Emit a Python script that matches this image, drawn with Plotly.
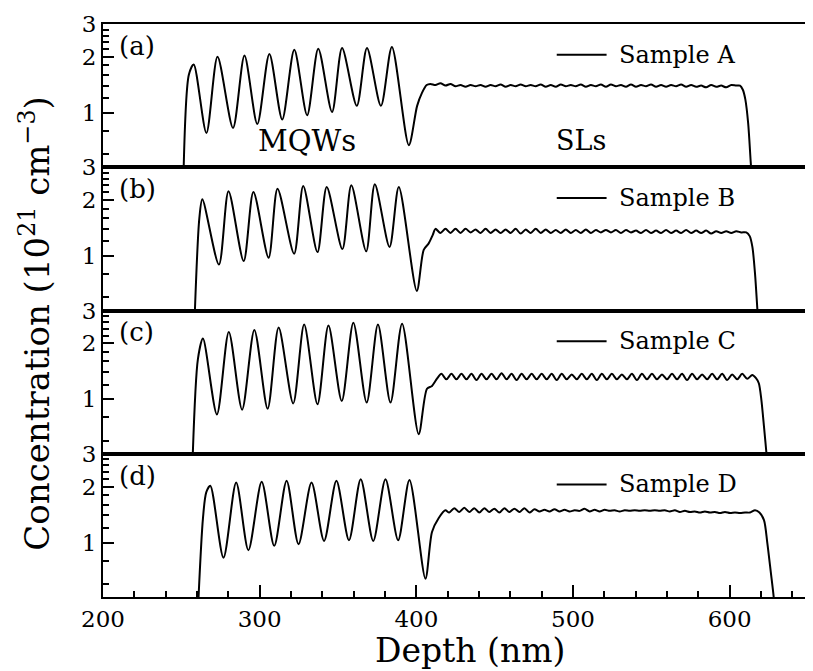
import math
import plotly.graph_objects as go
from plotly.subplots import make_subplots

samples = ["Sample A", "Sample B", "Sample C", "Sample D"]
panel_tags = ["(a)", "(b)", "(c)", "(d)"]

# Sample A: depth (nm) / concentration (1e21 cm^-3)
depth_a = [251.2, 254.8, 257.9, 266.0, 273.1, 283.0, 290.3, 298.5, 306.2, 314.4,
           322.1, 330.3, 337.4, 346.2, 352.6, 362.0, 368.5, 377.4, 384.4, 395.2,
           400.5, 403.6, 406.6,
           409.0, 412.2, 415.4, 418.6, 421.8, 425.0, 428.2, 431.4, 434.6, 437.8,
           441.0, 444.2, 447.4, 450.6, 453.8, 457.0, 460.2, 463.4, 466.6, 469.8,
           473.0, 476.2, 479.4, 482.6, 485.8, 489.0, 492.2, 495.4, 498.6, 501.8,
           505.0, 508.2, 511.4, 514.6, 517.8, 521.0, 524.2, 527.4, 530.6, 533.8,
           537.0, 540.2, 543.4, 546.6, 549.8, 553.0, 556.2, 559.4, 562.6, 565.8,
           569.0, 572.2, 575.4, 578.6, 581.8, 585.0, 588.2, 591.4, 594.6, 597.8,
           601.0, 604.2,
           606.6, 608.4, 610.0, 611.8, 613.4, 614.5]
conc_a = [0.40, 1.60, 1.82, 0.78, 2.00, 0.83, 2.03, 0.87, 2.07, 0.92,
          2.18, 0.97, 2.21, 1.01, 2.23, 1.09, 2.23, 1.09, 2.26, 0.67,
          1.09, 1.28, 1.41,
          1.43, 1.41, 1.44, 1.40, 1.43, 1.39, 1.41, 1.38, 1.41, 1.39,
          1.41, 1.38, 1.41, 1.39, 1.42, 1.38, 1.41, 1.39, 1.42, 1.39,
          1.41, 1.39, 1.42, 1.38, 1.41, 1.38, 1.42, 1.39, 1.41, 1.39,
          1.42, 1.38, 1.41, 1.39, 1.42, 1.38, 1.42, 1.39, 1.41, 1.38,
          1.42, 1.38, 1.41, 1.39, 1.42, 1.38, 1.41, 1.38, 1.41, 1.39,
          1.42, 1.38, 1.41, 1.38, 1.40, 1.37, 1.41, 1.38, 1.40, 1.37,
          1.41, 1.40,
          1.40, 1.33, 1.18, 0.88, 0.55, 0.40]

# Sample B
depth_b = [258.2, 261.5, 263.4, 274.0, 280.1, 289.8, 296.0, 305.7, 311.4, 322.0,
           327.8, 336.9, 342.8, 352.8, 358.5, 368.0, 373.5, 382.9, 388.8, 400.3,
           404.7, 407.9, 410.5, 412.2,
           415.4, 418.6, 421.8, 425.0, 428.2, 431.4, 434.6, 437.8, 441.0, 444.2,
           447.4, 450.6, 453.8, 457.0, 460.2, 463.4, 466.6, 469.8, 473.0, 476.2,
           479.4, 482.6, 485.8, 489.0, 492.2, 495.4, 498.6, 501.8, 505.0, 508.2,
           511.4, 514.6, 517.8, 521.0, 524.2, 527.4, 530.6, 533.8, 537.0, 540.2,
           543.4, 546.6, 549.8, 553.0, 556.2, 559.4, 562.6, 565.8, 569.0, 572.2,
           575.4, 578.6, 581.8, 585.0, 588.2, 591.4, 594.6, 597.8, 601.0, 604.2,
           607.4, 610.6,
           612.8, 614.5, 616.2, 617.8, 618.6]
conc_b = [0.40, 1.60, 2.02, 0.90, 2.23, 0.94, 2.21, 0.98, 2.30, 1.03,
          2.38, 1.05, 2.35, 1.09, 2.40, 1.06, 2.43, 1.12, 2.35, 0.65,
          1.08, 1.17, 1.30, 1.40,
          1.33, 1.40, 1.33, 1.40, 1.33, 1.40, 1.34, 1.39, 1.33, 1.40,
          1.33, 1.39, 1.33, 1.39, 1.33, 1.40, 1.32, 1.39, 1.33, 1.40,
          1.33, 1.39, 1.33, 1.38, 1.33, 1.39, 1.33, 1.38, 1.33, 1.39,
          1.33, 1.38, 1.34, 1.38, 1.34, 1.38, 1.33, 1.38, 1.34, 1.37,
          1.33, 1.38, 1.33, 1.37, 1.33, 1.38, 1.33, 1.37, 1.33, 1.38,
          1.33, 1.37, 1.33, 1.37, 1.32, 1.36, 1.33, 1.36, 1.33, 1.36,
          1.34, 1.34,
          1.28, 1.12, 0.80, 0.50, 0.40]

# Sample C
depth_c = [256.9, 260.6, 263.8, 272.7, 280.3, 288.8, 296.6, 305.1, 312.1, 321.4,
           328.4, 336.9, 343.9, 352.4, 359.8, 368.3, 375.5, 383.5, 390.9, 401.5,
           406.8, 410.0, 413.2,
           416.0, 419.2, 422.4, 425.6, 428.8, 432.0, 435.2, 438.4, 441.6, 444.8,
           448.0, 451.2, 454.4, 457.6, 460.8, 464.0, 467.2, 470.4, 473.6, 476.8,
           480.0, 483.2, 486.4, 489.6, 492.8, 496.0, 499.2, 502.4, 505.6, 508.8,
           512.0, 515.2, 518.4, 521.6, 524.8, 528.0, 531.2, 534.4, 537.6, 540.8,
           544.0, 547.2, 550.4, 553.6, 556.8, 560.0, 563.2, 566.4, 569.6, 572.8,
           576.0, 579.2, 582.4, 585.6, 588.8, 592.0, 595.2, 598.4, 601.6, 604.8,
           608.0, 611.2, 614.4,
           616.8, 618.6, 620.2, 622.0, 623.6, 624.5]
conc_c = [0.40, 1.65, 2.12, 0.83, 2.30, 0.88, 2.36, 0.89, 2.43, 0.95,
          2.52, 0.94, 2.49, 0.98, 2.58, 0.96, 2.52, 0.96, 2.55, 0.65,
          1.14, 1.18, 1.29,
          1.37, 1.28, 1.37, 1.28, 1.37, 1.28, 1.37, 1.27, 1.37, 1.28,
          1.37, 1.28, 1.38, 1.28, 1.37, 1.27, 1.37, 1.28, 1.37, 1.28,
          1.37, 1.28, 1.37, 1.27, 1.37, 1.28, 1.36, 1.28, 1.37, 1.28,
          1.37, 1.27, 1.37, 1.28, 1.37, 1.28, 1.36, 1.28, 1.37, 1.27,
          1.37, 1.28, 1.37, 1.28, 1.36, 1.28, 1.37, 1.28, 1.37, 1.27,
          1.37, 1.28, 1.36, 1.28, 1.37, 1.28, 1.37, 1.27, 1.36, 1.28,
          1.37, 1.29, 1.35,
          1.30, 1.22, 1.00, 0.70, 0.50, 0.40]

# Sample D
depth_d = [260.4, 263.8, 265.9, 268.5, 276.9, 285.0, 292.8, 301.3, 309.3, 317.2,
           324.8, 333.1, 341.1, 349.0, 357.0, 364.5, 372.5, 380.3, 388.4, 395.6,
           405.8, 410.0, 414.2, 418.5,
           421.0, 424.2, 427.4, 430.6, 433.8, 437.0, 440.2, 443.4, 446.6, 449.8,
           453.0, 456.2, 459.4, 462.6, 465.8, 469.0, 472.2, 475.4, 478.6, 481.8,
           485.0, 488.2, 491.4, 494.6, 497.8, 501.0, 504.2, 507.4, 510.6, 513.8,
           517.0, 520.2, 523.4, 526.6, 529.8, 533.0, 536.2, 539.4, 542.6, 545.8,
           549.0, 552.2, 555.4, 558.6, 561.8, 565.0, 568.2, 571.4, 574.6, 577.8,
           581.0, 584.2, 587.4, 590.6, 593.8, 597.0, 600.2, 603.4, 606.6, 609.8,
           613.0, 616.2,
           619.0, 621.9, 624.0, 626.2, 628.2, 629.0]
conc_d = [0.40, 1.35, 1.86, 2.02, 0.83, 2.10, 0.91, 2.12, 0.96, 2.15,
          0.98, 2.10, 1.02, 2.15, 1.03, 2.19, 1.02, 2.19, 1.03, 2.17,
          0.64, 1.14, 1.35, 1.49,
          1.45, 1.53, 1.46, 1.54, 1.46, 1.53, 1.45, 1.53, 1.46, 1.52,
          1.45, 1.53, 1.46, 1.52, 1.46, 1.53, 1.45, 1.51, 1.47, 1.50,
          1.47, 1.51, 1.47, 1.50, 1.47, 1.49, 1.48, 1.52, 1.47, 1.50,
          1.47, 1.50, 1.48, 1.49, 1.47, 1.49, 1.48, 1.49, 1.48, 1.49,
          1.48, 1.49, 1.48, 1.49, 1.47, 1.49, 1.46, 1.48, 1.46, 1.47,
          1.45, 1.47, 1.45, 1.46, 1.44, 1.46, 1.44, 1.45, 1.44, 1.45,
          1.45, 1.49,
          1.45, 1.32, 1.00, 0.70, 0.50, 0.40]

depths = [depth_a, depth_b, depth_c, depth_d]
concs = [conc_a, conc_b, conc_c, conc_d]

FONT = "DejaVu Serif"

fig = make_subplots(rows=4, cols=1, shared_xaxes=True, vertical_spacing=0)

for i, (d, c) in enumerate(zip(depths, concs), start=1):
    assert len(d) == len(c), (i, len(d), len(c))
    fig.add_trace(go.Scatter(x=d, y=c, mode="lines", showlegend=False,
                             line=dict(color="black", width=2, shape="spline", smoothing=0.8)),
                  row=i, col=1)

minor_y = [0.6, 0.8, 1.2, 1.4, 1.6, 1.8, 2.2, 2.4, 2.6, 2.8]
fig.update_yaxes(type="log", range=[math.log10(0.51), math.log10(3.0)],
                 tickmode="array", tickvals=[1, 2, 3], ticktext=["1", "2", "3"],
                 ticks="inside", ticklen=11, tickwidth=2, tickcolor="black",
                 minor=dict(tickmode="array", tickvals=minor_y, ticks="inside",
                            ticklen=6, tickwidth=2, tickcolor="black"),
                 showline=True, mirror=True, linecolor="black", linewidth=2,
                 showgrid=False, zeroline=False,
                 tickfont=dict(family=FONT, size=23, color="black"))
fig.update_xaxes(range=[200, 650], showline=True, mirror=True, linecolor="black",
                 linewidth=2, showgrid=False, zeroline=False, ticks="")
fig.update_xaxes(row=4, col=1, tickmode="array", tickvals=[200, 300, 400, 500, 600],
                 ticks="inside", ticklen=12, tickwidth=2, tickcolor="black",
                 minor=dict(tickmode="linear", tick0=200, dtick=20, ticks="inside",
                            ticklen=6, tickwidth=2, tickcolor="black"),
                 tickfont=dict(family=FONT, size=23, color="black"))

for i in range(1, 5):
    sfx = "" if i == 1 else str(i)
    xr, yr = f"x{sfx} domain", f"y{sfx} domain"
    fig.add_annotation(text=panel_tags[i - 1], xref=xr, yref=yr, x=0.02, y=0.848,
                       xanchor="left", yanchor="middle", showarrow=False,
                       font=dict(family=FONT, size=26, color="black"))
    fig.add_shape(type="line", xref=xr, yref=yr, x0=0.6436, x1=0.7143, y0=0.786, y1=0.786,
                  line=dict(color="black", width=2))
    fig.add_annotation(text=samples[i - 1], xref=xr, yref=yr, x=0.7284, y=0.786,
                       xanchor="left", yanchor="middle", showarrow=False,
                       font=dict(family=FONT, size=24, color="black"))

fig.add_annotation(text="MQWs", xref="x domain", yref="y domain", x=0.29, y=0.18,
                   xanchor="center", yanchor="middle", showarrow=False,
                   font=dict(family=FONT, size=29, color="black"))
fig.add_annotation(text="SLs", xref="x domain", yref="y domain", x=0.6775, y=0.185,
                   xanchor="center", yanchor="middle", showarrow=False,
                   font=dict(family=FONT, size=27, color="black"))

fig.add_annotation(text="Depth (nm)", xref="paper", yref="paper", x=0.52, y=-0.093,
                   xanchor="center", yanchor="middle", showarrow=False,
                   font=dict(family=FONT, size=33, color="black"))
fig.add_annotation(text="Concentration (10<sup>21</sup> cm<sup>\u22123</sup>)",
                   xref="paper", yref="paper", x=-0.097, y=0.478, textangle=-90,
                   xanchor="center", yanchor="middle", showarrow=False,
                   font=dict(family=FONT, size=34, color="black"))

# the page adds an 8 px body margin, so the figure is made 8 px smaller
fig.update_layout(width=805, height=663, plot_bgcolor="white", paper_bgcolor="white",
                  margin=dict(l=95, r=3, t=10, b=74, pad=0))

fig.write_html("out.html")
